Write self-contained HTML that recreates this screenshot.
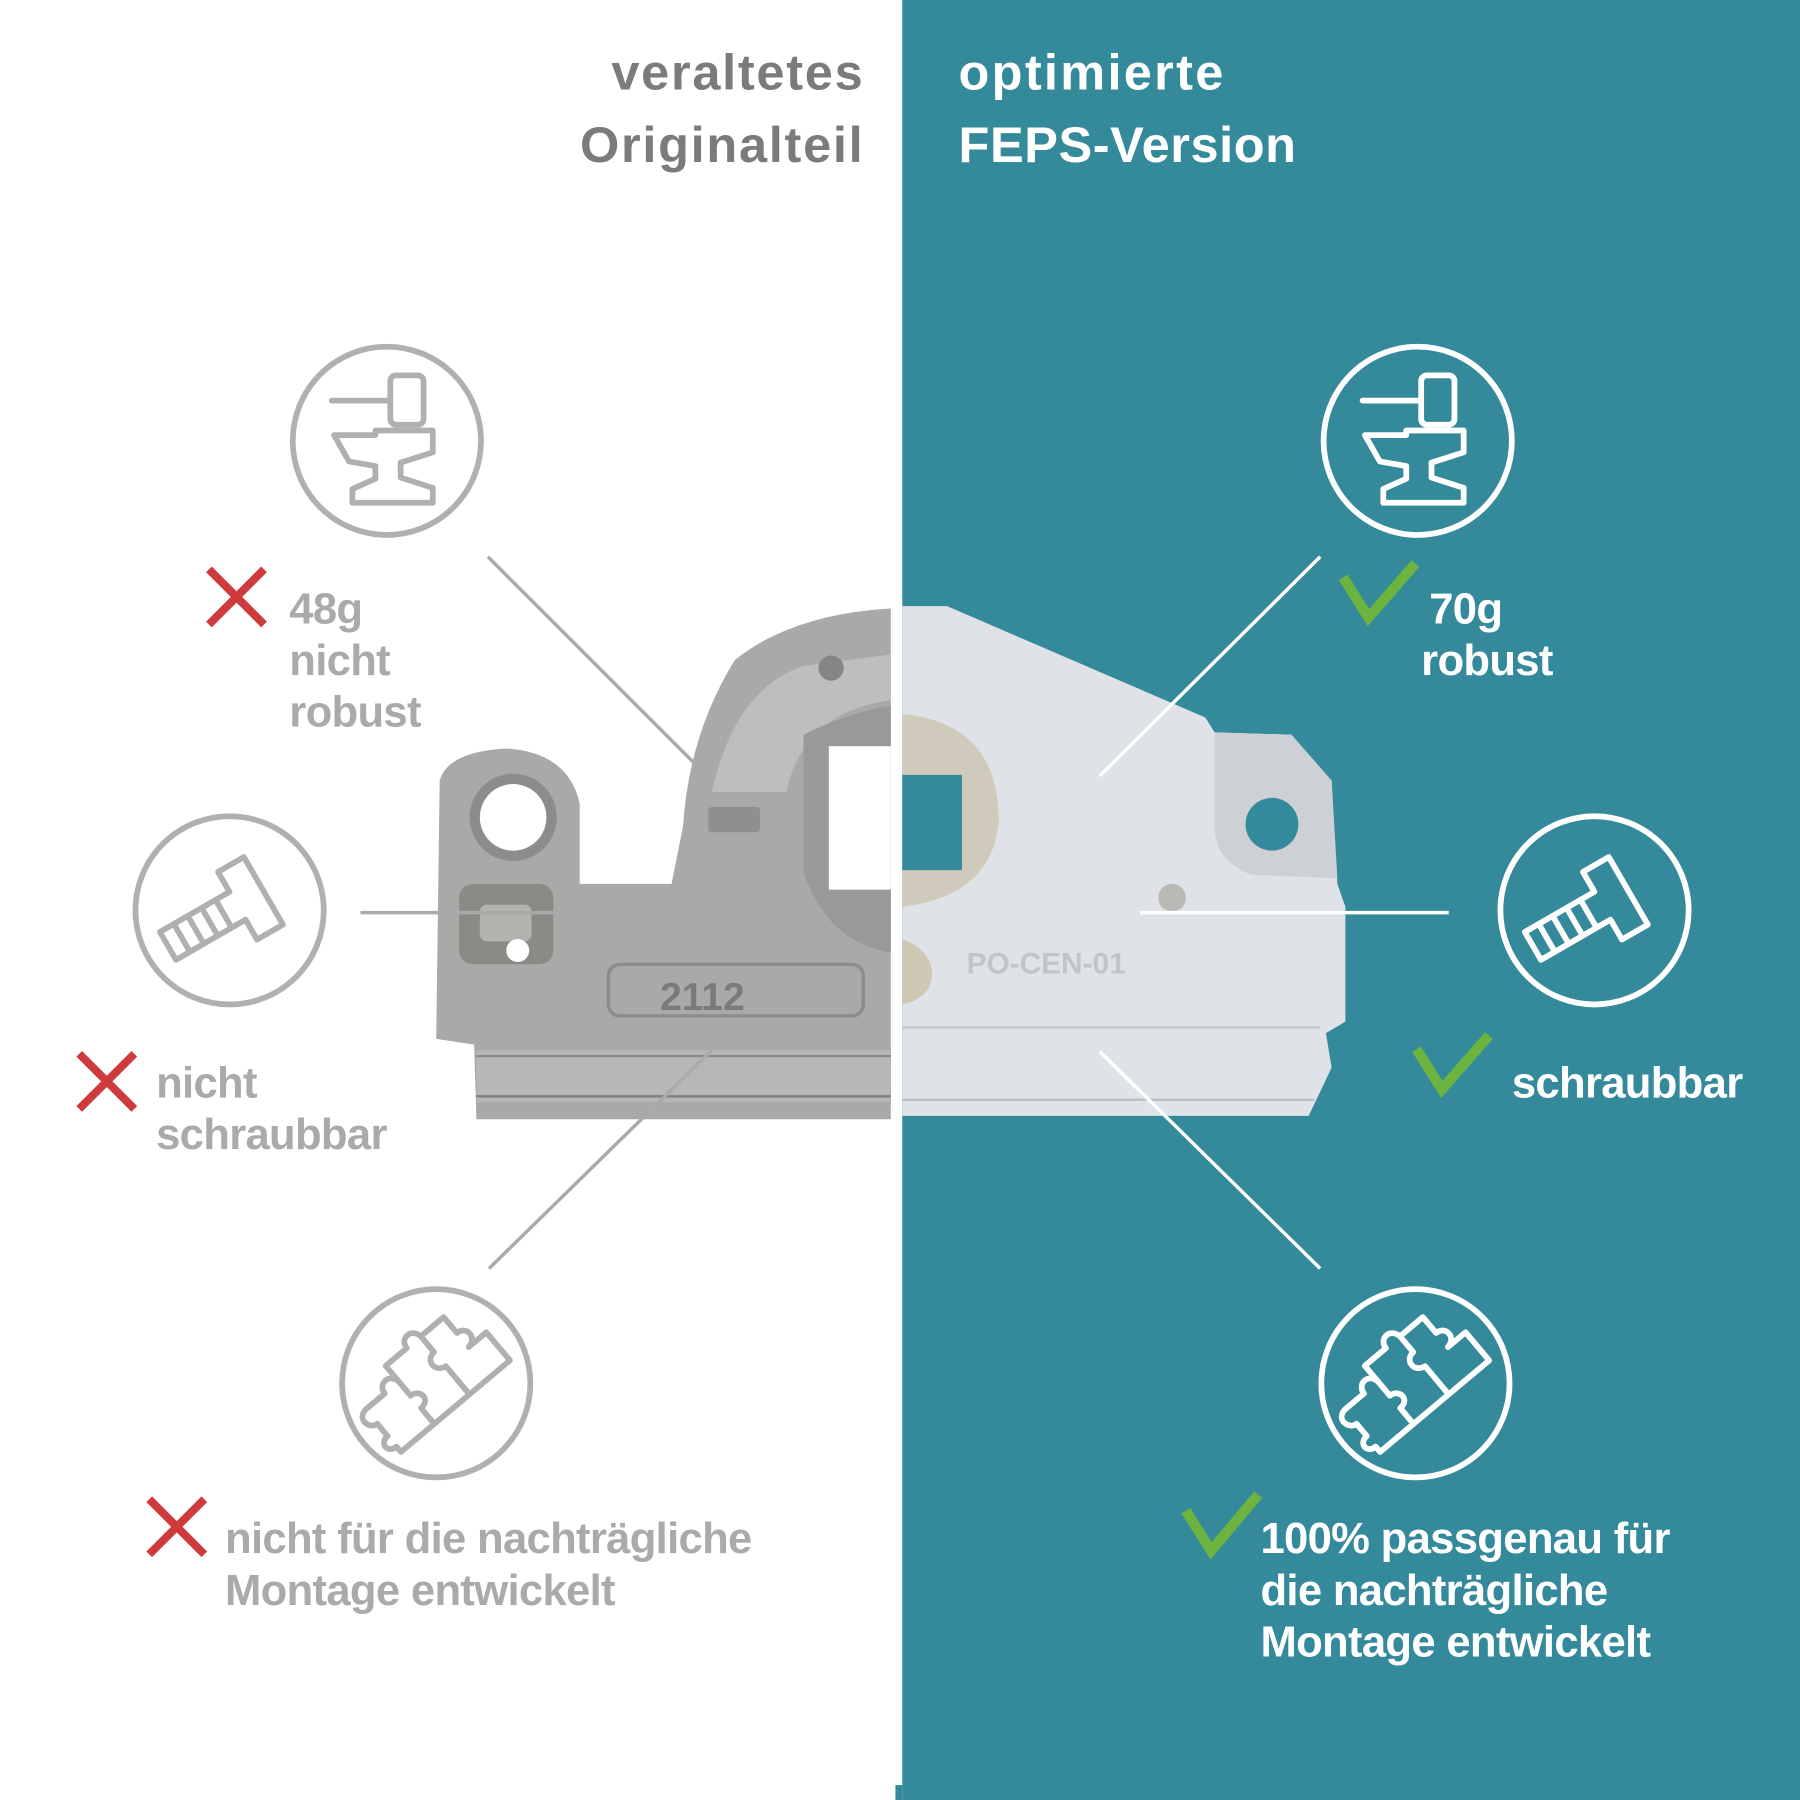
<!DOCTYPE html>
<html><head><meta charset="utf-8"><style>
html,body{margin:0;padding:0;background:#fff}
svg{display:block}
text{font-family:"Liberation Sans",sans-serif;font-weight:bold}
</style></head><body>
<svg width="1800" height="1800" viewBox="0 0 1568 1568" xmlns="http://www.w3.org/2000/svg">
<defs>
<g id="anvil" fill="none" stroke-width="5" stroke-linejoin="round" stroke-linecap="round">
<circle r="82" stroke-width="5"/>
<line x1="-48" y1="-35" x2="3" y2="-35"/>
<rect x="3" y="-57" width="29" height="43" rx="5"/>
<path d="M-46,-5 L-10,-5 L-10,-9 L40,-9 L40,10 L12,19 L12,32 L40,41 L40,54 L-30,54 L-30,42 L-10,33 L-10,22 L-33,18 Z"/>
</g>
<g id="screw" fill="none" stroke-width="5" stroke-linejoin="round" stroke-linecap="round">
<circle r="82"/>
<g transform="rotate(-30)">
<path d="M-62,-14 L8,-14 L8,-34 L34,-34 L34,34 L8,34 L8,14 L-62,14 Z"/>
<line x1="-48" y1="-14" x2="-48" y2="14"/>
<line x1="-34" y1="-14" x2="-34" y2="14"/>
<line x1="-20" y1="-14" x2="-20" y2="14"/>
<line x1="-6" y1="-14" x2="-6" y2="14"/>
</g>
</g>
<g id="puzzle" fill="none" stroke-width="5" stroke-linejoin="round" stroke-linecap="round">
<circle r="82"/>
<g transform="rotate(-40)">
<path d="M-62,8 L-62,-6 C-70,-6 -74,-20 -62,-22 L-40,-22 C-40,-32 -26,-34 -24,-22 L-24,-40 L0,-40 C0,-50 14,-52 16,-40 L42,-40 L42,-22 C52,-22 54,-8 42,-6 L62,-6 L62,26 L-62,26 L-62,20 C-72,20 -72,8 -62,8 Z"/>
<path d="M-24,-22 L-24,-6 C-14,-6 -12,8 -24,8 L-24,26"/>
<path d="M16,-40 L16,-22 C6,-22 4,-8 16,-6 L16,26"/>
</g>
</g>
</defs>
<rect x="786" y="0" width="782" height="1568" fill="#348a9b"/>
<rect x="780" y="1555" width="6" height="13" fill="#348a9b"/>

<text x="753" y="78" text-anchor="end" font-size="44" fill="#7b7b7b" letter-spacing="1.5">veraltetes</text>
<text x="753" y="141" text-anchor="end" font-size="44" fill="#7b7b7b" letter-spacing="1.5">Originalteil</text>
<text x="835" y="78" font-size="44" fill="#fff" letter-spacing="2">optimierte</text>
<text x="835" y="141" font-size="44" fill="#fff" letter-spacing="0.5">FEPS-Version</text>

<!-- left part -->
<path d="M380,905 L383,680 Q390,655 440,652 Q495,655 505,700 L505,770 L585,770 L595,720 Q600,640 640,575 Q690,535 776,530 L776,975 L415,975 L413,910 Z" fill="#a9aaa7"/>
<path d="M620,690 Q640,600 700,580 L776,570 L776,610 Q700,620 685,690 Z" fill="#bebfbc"/>
<rect x="415" y="915" width="361" height="45" fill="#b7b8b5"/>
<line x1="415" y1="920" x2="776" y2="920" stroke="#8a8b88" stroke-width="2"/>
<line x1="415" y1="955" x2="776" y2="955" stroke="#7e7f7c" stroke-width="2"/>
<rect x="530" y="840" width="222" height="45" rx="10" fill="none" stroke="#8c8d8a" stroke-width="3"/>
<text x="575" y="880" font-size="34" font-weight="normal" fill="#7a7b78">2112</text>
<path d="M700,640 Q740,620 776,615 L776,830 Q720,820 700,760 Z" fill="#98999a"/>
<rect x="722" y="650" width="54" height="125" fill="#fff"/>
<circle cx="447" cy="712" r="38" fill="#8c8d8a"/>
<circle cx="447" cy="712" r="29" fill="#fff"/>
<rect x="400" y="770" width="82" height="70" rx="12" fill="#8a8b87"/>
<rect x="418" y="788" width="45" height="32" rx="6" fill="#b2b3af"/>
<circle cx="451" cy="828" r="10" fill="#fff"/>
<rect x="617" y="703" width="45" height="22" rx="3" fill="#8f908d"/>
<circle cx="724" cy="582" r="11" fill="#858683"/>

<!-- right part -->
<path d="M786,528 L825,528 L1050,625 L1058,638 L1125,640 L1160,680 L1165,770 L1172,790 L1172,890 L1155,900 L1160,930 L1140,972 L786,972 Z" fill="#dfe2e6"/>
<path d="M1058,638 L1125,640 L1160,680 L1165,765 L1090,762 Q1058,750 1058,720 Z" fill="#cdd1d5"/>
<line x1="786" y1="895" x2="1150" y2="895" stroke="#c5c8cc" stroke-width="2"/>
<line x1="786" y1="958" x2="1145" y2="958" stroke="#b9bcc0" stroke-width="2"/>
<path d="M786,622 Q870,630 870,715 Q865,780 786,790 Z" fill="#cfcabb"/>
<rect x="786" y="675" width="52" height="83" fill="#348a9b"/>
<circle cx="1108" cy="718" r="23" fill="#348a9b"/>
<circle cx="1021" cy="782" r="12" fill="#b9b9b6"/>
<path d="M786,818 Q812,828 812,850 Q810,870 786,875 Z" fill="#cfc8b5"/>
<text x="842" y="848" font-size="26" font-weight="normal" fill="#c2c5c8">PO-CEN-01</text>

<!-- connectors -->
<g stroke="#aaaaaa" stroke-width="3">
<line x1="425" y1="485" x2="605" y2="665"/>
<line x1="314" y1="795" x2="490" y2="795"/>
<line x1="426" y1="1105" x2="620" y2="915"/>
</g>
<g stroke="#fff" stroke-width="3">
<line x1="1150" y1="485" x2="958" y2="676"/>
<line x1="993" y1="795" x2="1262" y2="795"/>
<line x1="958" y1="916" x2="1150" y2="1105"/>
</g>

<!-- icons -->
<use href="#anvil" x="337" y="384" stroke="#b0b0b0"/>
<use href="#screw" x="200" y="793" stroke="#b0b0b0"/>
<use href="#puzzle" x="380" y="1205" stroke="#b0b0b0"/>
<use href="#anvil" x="1235" y="384" stroke="#fff"/>
<use href="#screw" x="1389" y="793" stroke="#fff"/>
<use href="#puzzle" x="1233" y="1205" stroke="#fff"/>

<!-- crosses -->
<g stroke="#cf3a3d" stroke-width="7">
<path d="M182,496 L230,544 M230,496 L182,544"/>
<path d="M69,918 L117,966 M117,918 L69,966"/>
<path d="M130,1306 L178,1354 M178,1306 L130,1354"/>
</g>
<!-- checks -->
<g stroke="#6cb33f" stroke-width="9" fill="none">
<path d="M1170,503 L1192,538 L1233,491"/>
<path d="M1234,914 L1256,949 L1297,902"/>
<path d="M1033,1316 L1055,1351 L1096,1302"/>
</g>

<!-- labels -->
<g font-size="38" fill="#aaaaaa" letter-spacing="-0.6">
<text x="252" y="543">48g</text>
<text x="252" y="588">nicht</text>
<text x="252" y="633">robust</text>
<text x="136" y="956">nicht</text>
<text x="136" y="1001">schraubbar</text>
<text x="196" y="1353">nicht für die nachträgliche</text>
<text x="196" y="1398">Montage entwickelt</text>
</g>
<g font-size="38" fill="#fff" letter-spacing="-0.6">
<text x="1245" y="543">70g</text>
<text x="1238" y="588">robust</text>
<text x="1317" y="956">schraubbar</text>
<text x="1098" y="1353">100% passgenau für</text>
<text x="1098" y="1398">die nachträgliche</text>
<text x="1098" y="1443">Montage entwickelt</text>
</g>
</svg>
</body></html>
